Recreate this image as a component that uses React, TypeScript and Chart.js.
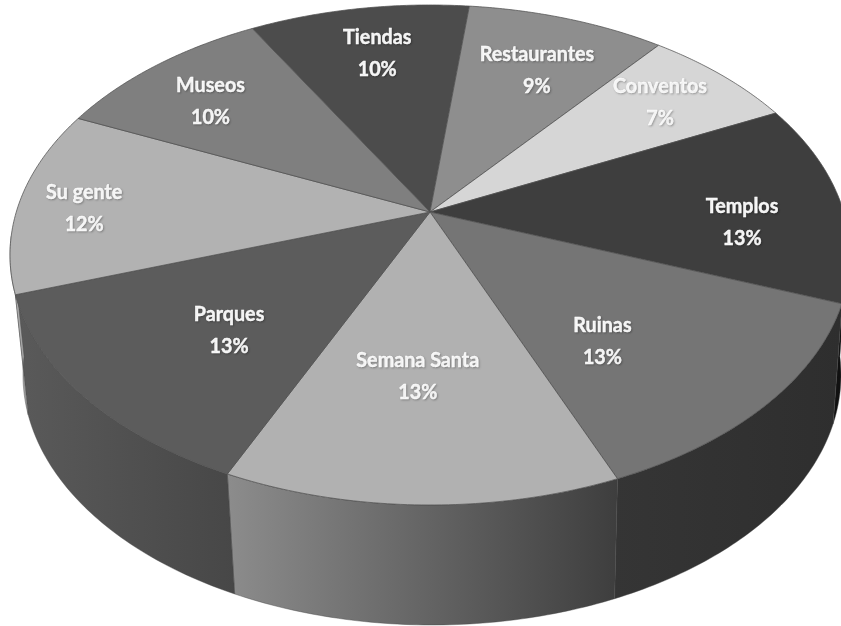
import React, { useEffect, useRef } from "react";
import { Chart, registerables } from "chart.js";

Chart.register(...registerables);

const categories = ["Tiendas", "Restaurantes", "Conventos", "Templos", "Ruinas", "Semana Santa", "Parques", "Su gente", "Museos"];
const shares = [10, 9, 7, 13, 13, 13, 13, 12, 10];
const topColors = ["#4c4c4c", "#8e8e8e", "#d6d6d6", "#3e3e3e", "#757575", "#b1b1b1", "#5c5c5c", "#b2b2b2", "#7f7f7f"];
const wallLeft = ["#000", "#000", "#000", "#111111", "#353535", "#8c8c8c", "#5a5a5a", "#bdbdbd", "#000"];
const wallRight = ["#000", "#000", "#000", "#111111", "#2e2e2e", "#3e3e3e", "#474747", "#9a9a9a", "#000"];
const labelRadius = [0.753, 0.712, 0.778, 0.75, 0.62, 0.607, 0.634, 0.838, 0.758];
const labelTurn = [0.6, 1.2, -0.6, 5.7, 7.8, 1.5, -2.8, -1.8, -1.8];

const TOP = { cx: 430, cy: 255, a: 420, b: 250 };
const BOTTOM = { cx: 432, cy: 375, a: 409, b: 250 };
const APEX_Y = 212;
const E = (APEX_Y - TOP.cy) / TOP.b;

type Ell = typeof TOP;

function project(r: number, t: number, ell: Ell) {
  const x = r * Math.cos(t);
  const y = r * Math.sin(t);
  const d = 1 + E * y;
  return { x: ell.cx + (ell.a * x * Math.sqrt(1 - E * E)) / d, y: ell.cy + (ell.b * (y + E)) / d };
}

const pie3d = {
  id: "pie3d",
  beforeDatasetsDraw(chart: any) {
    const ctx: CanvasRenderingContext2D = chart.ctx;
    const arcs = chart.getDatasetMeta(0).data as any[];
    const lo = (5.7 * Math.PI) / 180;
    const hi = (174.3 * Math.PI) / 180;
    const N = 60;

    // side walls
    arcs.forEach((arc, i) => {
      const s = Math.max(arc.startAngle, lo);
      const e = Math.min(arc.endAngle, hi);
      if (e <= s) return;
      const pts: { x: number; y: number }[] = [];
      for (let k = 0; k <= N; k++) pts.push(project(1, s + ((e - s) * k) / N, TOP));
      for (let k = N; k >= 0; k--) pts.push(project(1, s + ((e - s) * k) / N, BOTTOM));
      const xs = pts.map((p) => p.x);
      const g = ctx.createLinearGradient(Math.min(...xs), 0, Math.max(...xs), 0);
      g.addColorStop(0, wallLeft[i]);
      g.addColorStop(1, wallRight[i]);
      ctx.beginPath();
      pts.forEach((p, k) => (k ? ctx.lineTo(p.x, p.y) : ctx.moveTo(p.x, p.y)));
      ctx.closePath();
      ctx.fillStyle = g;
      ctx.fill();
      ctx.strokeStyle = "rgba(70,70,70,0.6)";
      ctx.lineWidth = 0.7;
      ctx.stroke();
    });

    // top face
    arcs.forEach((arc) => {
      const s = arc.startAngle;
      const e = arc.endAngle;
      ctx.beginPath();
      const c = project(0, 0, TOP);
      ctx.moveTo(c.x, c.y);
      for (let k = 0; k <= N; k++) {
        const p = project(1, s + ((e - s) * k) / N, TOP);
        ctx.lineTo(p.x, p.y);
      }
      ctx.closePath();
      ctx.fillStyle = arc.options.backgroundColor;
      ctx.fill();
      ctx.strokeStyle = "rgba(80,80,80,0.75)";
      ctx.lineWidth = 1;
      ctx.stroke();
    });

    // labels
    ctx.textAlign = "center";
    ctx.textBaseline = "middle";
    ctx.font = 'bold 21px Lato, "Open Sans", sans-serif';
    arcs.forEach((arc, i) => {
      const mid = (arc.startAngle + arc.endAngle) / 2 + (labelTurn[i] * Math.PI) / 180;
      const p = project(labelRadius[i], mid, TOP);
      ctx.save();
      ctx.shadowColor = "rgba(0,0,0,0.25)";
      ctx.shadowBlur = 2;
      ctx.shadowOffsetX = 1;
      ctx.shadowOffsetY = 1;
      ctx.fillStyle = "#ffffff";
      ctx.strokeStyle = "#ffffff";
      ctx.lineWidth = 0.4;
      ctx.translate(p.x, p.y);
      ctx.scale(0.94, 1);
      ctx.fillText(categories[i], 0, -16);
      ctx.strokeText(categories[i], 0, -16);
      ctx.fillText(`${shares[i]}%`, 0, 16);
      ctx.strokeText(`${shares[i]}%`, 0, 16);
      ctx.restore();
    });
    return false;
  },
};

export default function App() {
  const ref = useRef<HTMLCanvasElement>(null);
  useEffect(() => {
    document.body.style.margin = "0";
    const chart = new Chart(ref.current!, {
      type: "pie",
      data: {
        labels: categories,
        datasets: [{ data: shares, backgroundColor: topColors }],
      },
      options: {
        animation: false,
        responsive: false,
        rotation: -29.6,
        plugins: { legend: { display: false }, tooltip: { enabled: false } },
      },
      plugins: [pie3d],
    } as any);
    return () => chart.destroy();
  }, []);
  return <canvas ref={ref} width={841} height={626} style={{ display: "block", filter: "blur(0.4px)" }} />;
}
